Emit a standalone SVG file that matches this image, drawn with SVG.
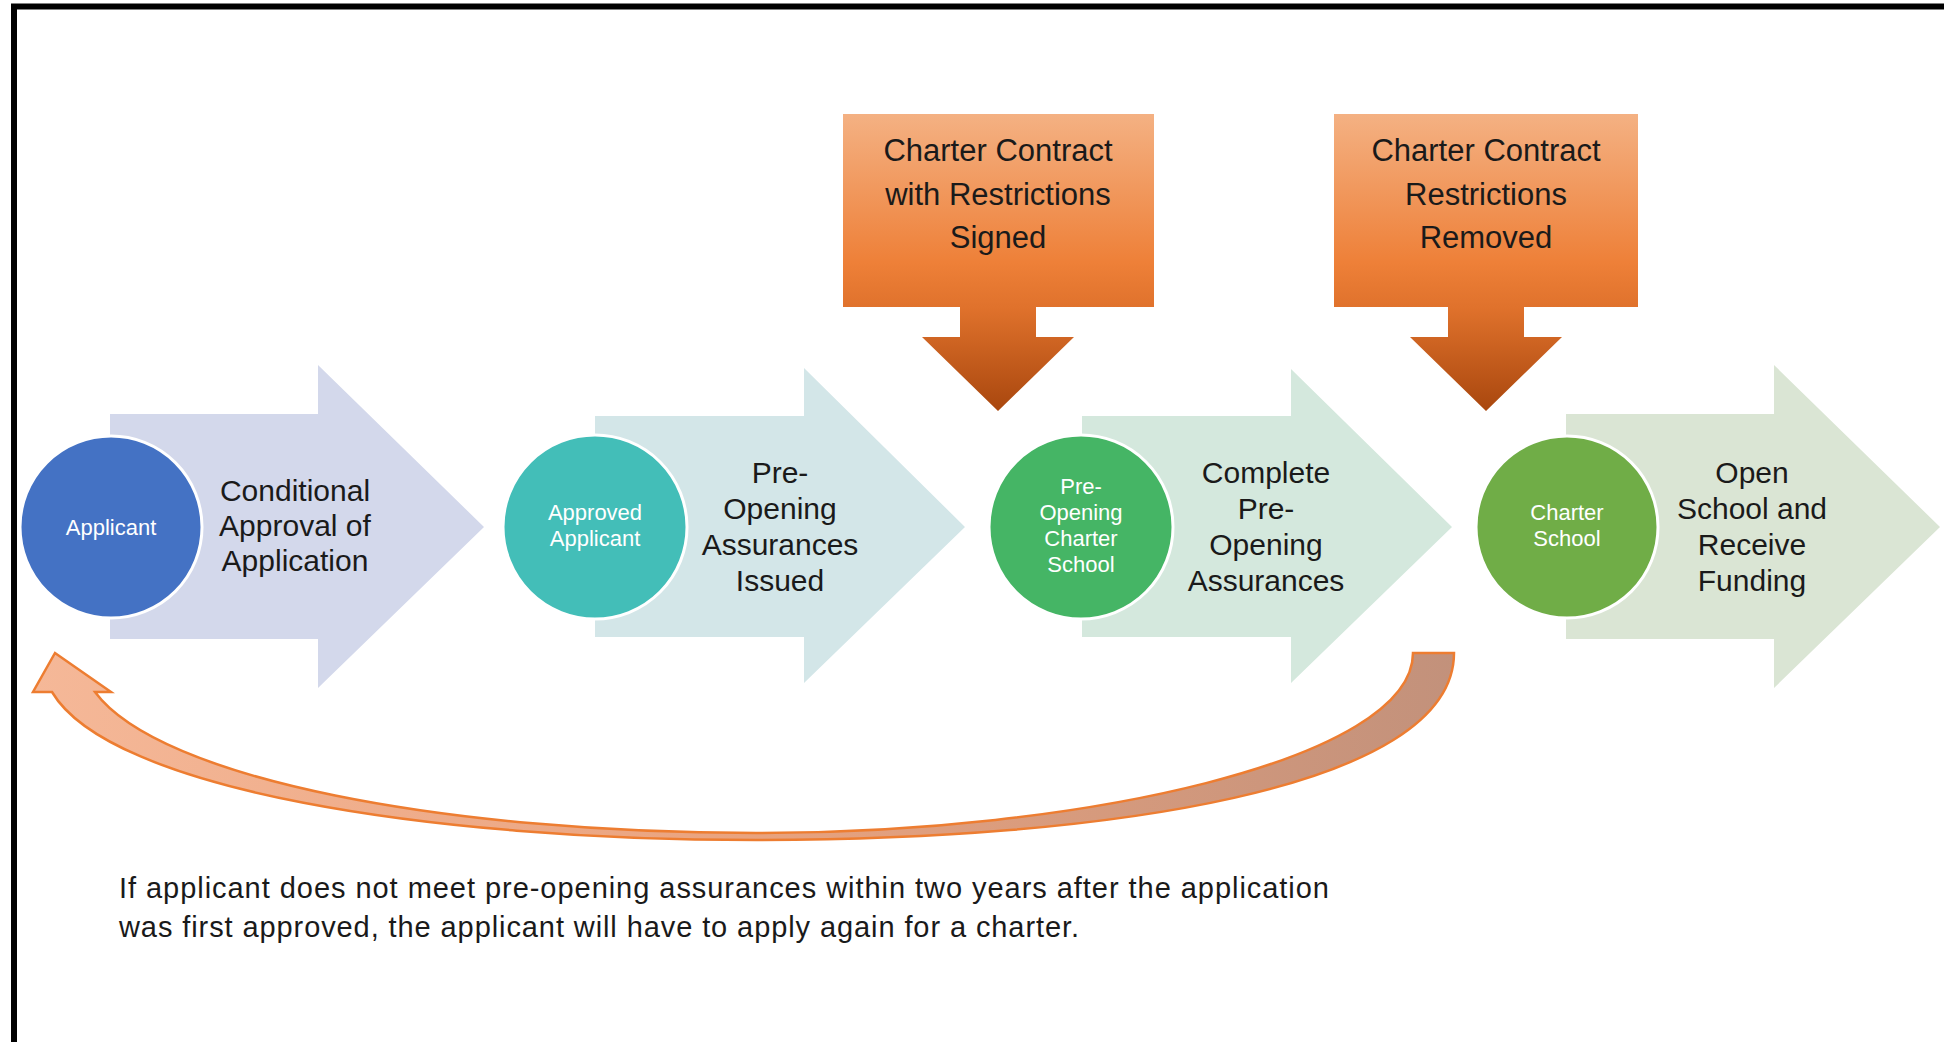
<svg xmlns="http://www.w3.org/2000/svg" width="1944" height="1042" viewBox="0 0 1944 1042">
<defs>
<style>
.t{font-family:"Liberation Sans",Arial,sans-serif;fill:#1a1a1a;text-anchor:middle}
.big{font-size:30px}
.box{font-size:31px}
.small{font-size:22px;fill:#ffffff}
.note{font-family:"Liberation Sans",Arial,sans-serif;font-size:29px;fill:#1a1a1a}
.circ{stroke:#ffffff;stroke-width:3}
</style>
<linearGradient id="og1" gradientUnits="userSpaceOnUse" x1="0" y1="114" x2="0" y2="411">
<stop offset="0" stop-color="#F4B183"/>
<stop offset="0.5" stop-color="#EE8038"/>
<stop offset="0.65" stop-color="#E0722C"/>
<stop offset="1" stop-color="#A9470E"/>
</linearGradient>
<linearGradient id="curveG" gradientUnits="userSpaceOnUse" x1="30" y1="0" x2="1460" y2="0">
<stop offset="0" stop-color="#F5B898"/>
<stop offset="0.5" stop-color="#E9A37F"/>
<stop offset="1" stop-color="#C2917B"/>
</linearGradient>
</defs>
<rect width="1944" height="1042" fill="#ffffff"/>
<path d="M14,1042 V6.5 H1944" fill="none" stroke="#000000" stroke-width="6"/>

<g id="step1">
<polygon points="110,414 318,414 318,365 484,527 318,688 318,639 110,639" fill="#D3D8EB"/>
<circle class="circ" cx="111" cy="527" r="91" fill="#4472C4"/>
<text class="t small" x="111" y="535">Applicant</text>
<text class="t big" x="295" y="501">Conditional</text>
<text class="t big" x="295" y="536">Approval of</text>
<text class="t big" x="295" y="571">Application</text>
</g>

<g id="step2">
<polygon points="595,416 804,416 804,368 965,527 804,683 804,637 595,637" fill="#D3E6E8"/>
<circle class="circ" cx="595" cy="527" r="92" fill="#43BEB8"/>
<text class="t small" x="595" y="520">Approved</text>
<text class="t small" x="595" y="546">Applicant</text>
<text class="t big" x="780" y="483">Pre-</text>
<text class="t big" x="780" y="519">Opening</text>
<text class="t big" x="780" y="555">Assurances</text>
<text class="t big" x="780" y="591">Issued</text>
</g>

<g id="step3">
<polygon points="1082,416 1291,416 1291,369 1452,527 1291,683 1291,637 1082,637" fill="#D4E8DD"/>
<circle class="circ" cx="1081" cy="527" r="92" fill="#45B565"/>
<text class="t small" x="1081" y="494">Pre-</text>
<text class="t small" x="1081" y="520">Opening</text>
<text class="t small" x="1081" y="546">Charter</text>
<text class="t small" x="1081" y="572">School</text>
<text class="t big" x="1266" y="483">Complete</text>
<text class="t big" x="1266" y="519">Pre-</text>
<text class="t big" x="1266" y="555">Opening</text>
<text class="t big" x="1266" y="591">Assurances</text>
</g>

<g id="step4">
<polygon points="1566,414 1774,414 1774,365 1940,527 1774,688 1774,639 1566,639" fill="#DAE5D4"/>
<circle class="circ" cx="1567" cy="527" r="91" fill="#70AD47"/>
<text class="t small" x="1567" y="520">Charter</text>
<text class="t small" x="1567" y="546">School</text>
<text class="t big" x="1752" y="483">Open</text>
<text class="t big" x="1752" y="519">School and</text>
<text class="t big" x="1752" y="555">Receive</text>
<text class="t big" x="1752" y="591">Funding</text>
</g>

<g id="contract1">
<polygon points="843,114 1154,114 1154,307 1036,307 1036,337 1074,337 998,411 922,337 960,337 960,307 843,307" fill="url(#og1)"/>
<text class="t box" x="998" y="161">Charter Contract</text>
<text class="t box" x="998" y="205">with Restrictions</text>
<text class="t box" x="998" y="248">Signed</text>
</g>

<g id="contract2">
<polygon points="1334,114 1638,114 1638,307 1524,307 1524,337 1562,337 1486,411 1410,337 1448,337 1448,307 1334,307" fill="url(#og1)"/>
<text class="t box" x="1486" y="161">Charter Contract</text>
<text class="t box" x="1486" y="205">Restrictions</text>
<text class="t box" x="1486" y="248">Removed</text>
</g>

<g id="connectors">
<path d="M52,692 C110,790 430,840 756,840 C1100,840 1454,790 1454,653 L1413,653 C1413,760 1080,833 756,833 C450,833 160,780 95,692 L111,692 L55,653 L33,692 Z" fill="url(#curveG)" stroke="#ED7D31" stroke-width="2.5" stroke-linejoin="miter"/>
</g>

<g id="note">
<text class="note" x="119" y="898" textLength="1210" lengthAdjust="spacing">If applicant does not meet pre-opening assurances within two years after the application</text>
<text class="note" x="119" y="937" textLength="960" lengthAdjust="spacing">was first approved, the applicant will have to apply again for a charter.</text>
</g>
</svg>
